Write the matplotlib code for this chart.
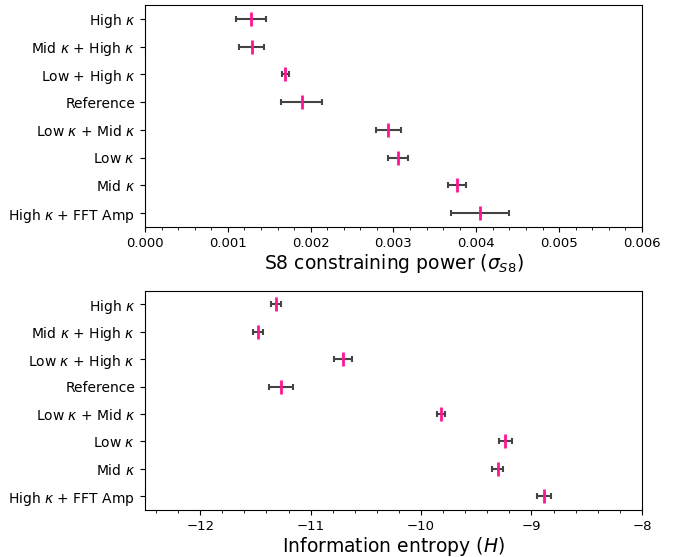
import numpy as np
import matplotlib
matplotlib.use("Agg")
import matplotlib.pyplot as plt
import matplotlib.ticker as ticker

# --------------------------------------------------------------------------- #
# data
# --------------------------------------------------------------------------- #
labels_top = [r"High $\kappa$", r"Mid $\kappa$ + High $\kappa$", r"Low + High $\kappa$",
              "Reference", r"Low $\kappa$ + Mid $\kappa$", r"Low $\kappa$", r"Mid $\kappa$",
              r"High $\kappa$ + FFT Amp"]
labels_bot = [r"High $\kappa$", r"Mid $\kappa$ + High $\kappa$", r"Low $\kappa$ + High $\kappa$",
              "Reference", r"Low $\kappa$ + Mid $\kappa$", r"Low $\kappa$", r"Mid $\kappa$",
              r"High $\kappa$ + FFT Amp"]

s8_mean = [0.00128, 0.00129, 0.001695, 0.00189, 0.002935, 0.00306, 0.003765, 0.00405]
s8_err = [0.00018, 0.00015, 0.00004, 0.00025, 0.00015, 0.00012, 0.00011, 0.00035]

h_mean = [-11.316, -11.48, -10.707, -11.268, -9.819, -9.236, -9.305, -8.886]
h_err = [0.047, 0.045, 0.085, 0.11, 0.04, 0.06, 0.05, 0.06]

PINK = "#ff1493"
BAR = "#444444"


def _panel(ax, means, errs, labels, xlabel):
    y = np.arange(len(means))
    ax.errorbar(means, y, xerr=errs, fmt="none", ecolor=BAR, elinewidth=1.5,
                capsize=2.5, capthick=1.5)
    ax.plot(means, y, ls="none", marker="|", color=PINK, ms=10, mew=2)
    ax.set_yticks(y)
    ax.set_yticklabels(labels)
    ax.set_ylim(len(means) - 0.5, -0.5)
    ax.set_xlabel(xlabel, fontsize=13.5, labelpad=1.5)
    ax.tick_params(axis="x", labelsize=9.5)
    ax.xaxis.set_minor_locator(ticker.AutoMinorLocator(5))


fig = plt.figure(figsize=(6.88, 5.57), dpi=100)
ax1 = fig.add_axes([0.2108, 0.5925, 0.7222, 0.3985])
ax2 = fig.add_axes([0.2108, 0.0844, 0.7222, 0.3936])

_panel(ax1, s8_mean, s8_err, labels_top, r"S8 constraining power ($\sigma_{S8}$)")
ax1.set_xlim(0, 0.006)
ax1.xaxis.set_major_formatter(ticker.FormatStrFormatter("%.3f"))

_panel(ax2, h_mean, h_err, labels_bot, r"Information entropy ($H$)")
ax2.set_xlim(-12.5, -8)
ax2.xaxis.set_major_locator(ticker.MultipleLocator(1))
ax2.xaxis.set_minor_locator(ticker.MultipleLocator(0.2))

fig.savefig("out.png", dpi=100)
